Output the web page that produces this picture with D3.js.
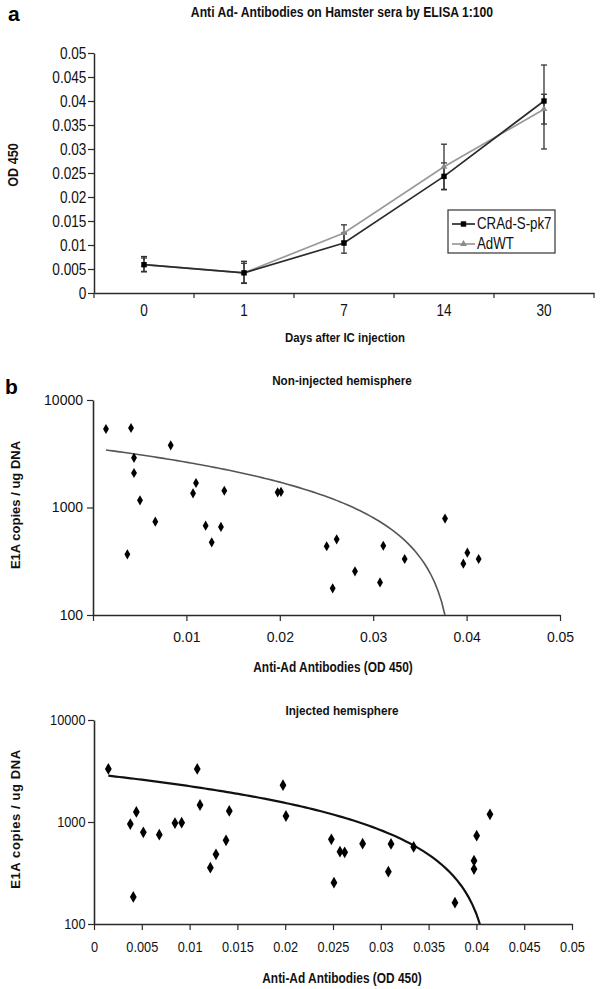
<!DOCTYPE html>
<html><head><meta charset="utf-8">
<script src="https://cdn.jsdelivr.net/npm/d3@7"></script>
<style>
body{margin:0;background:#fff;}
svg{display:block;}
.nar{font-family:"Liberation Sans",Arial,sans-serif;}
.reg{font-family:"Liberation Sans",Arial,sans-serif;}
</style></head>
<body>
<svg id="c" width="600" height="989"></svg>
<script>
// ---------- Panel a data ----------
const days = ["0","1","7","14","30"];
const odTicks = [0,0.005,0.01,0.015,0.02,0.025,0.03,0.035,0.04,0.045,0.05];
const odTickLabels = ["0","0.005","0.01","0.015","0.02","0.025","0.03","0.035","0.04","0.045","0.05"];
const crad = [0.0059,0.0042,0.0104,0.0243,0.0400];
const cradLo = [0.0045,0.0021,0.0083,0.0215,0.0300];
const cradHi = [0.0073,0.0062,0.0125,0.0271,0.0475];
const adwt = [0.0059,0.0042,0.0125,0.0263,0.0383];
const adwtLo = [0.0044,0.0020,0.0108,0.0216,0.0352];
const adwtHi = [0.0076,0.0066,0.0142,0.0310,0.0414];
const seriesNames = ["CRAd-S-pk7","AdWT"];

// ---------- Panel b (non-injected) ----------
const nonX = [0.00139,0.00407,0.00832,0.00439,0.00439,0.00503,0.00667,0.00368,0.01103,0.01071,0.01406,0.01206,0.01370,0.01271,0.01977,0.02013,0.02502,0.02609,0.02566,0.02805,0.03108,0.03073,0.03337,0.03769,0.04008,0.03965,0.04129];
const nonY = [5370,5490,3790,2900,2095,1167,738,367,1690,1356,1432,678,660,474,1384,1400,436,506,177,255,441,201,332,788,380,300,332];
const nonTrend = [3555,-91700]; // linear trendline: intercept, slope
const nonXTicks = [0,0.01,0.02,0.03,0.04,0.05];
const nonXLabels = ["","0.01","0.02","0.03","0.04","0.05"];

// ---------- Panel b (injected) ----------
const injX = [0.0015,0.0108,0.01977,0.00443,0.0038,0.00516,0.00683,0.00847,0.00917,0.01109,0.01415,0.01381,0.01276,0.01217,0.00411,0.02008,0.02483,0.02573,0.02622,0.0251,0.0281,0.03107,0.03079,0.03344,0.03776,0.04003,0.03975,0.03975,0.04142];
const injY = [3311,3311,2293,1254,955,793,752,977,985,1468,1283,661,482,357,184,1145,676,512,505,254,613,610,326,569,162,735,418,346,1189];
const injTrend = [2951,-70640];
const injXTicks = [0,0.005,0.01,0.015,0.02,0.025,0.03,0.035,0.04,0.045,0.05];
const injXLabels = ["0","0.005","0.01","0.015","0.02","0.025","0.03","0.035","0.04","0.045","0.05"];

const logTicks = [100,1000,10000];
const logLabels = ["100","1000","10000"];

const svg = d3.select("#c");
const AX = "#2a2a2a";
const NS = 0.85; // horizontal squeeze to imitate a narrow face

function ntext(g,x,y,txt,fs,opts={}){
  const t = g.append("text").attr("transform",`translate(${x},${y}) ${opts.rot?"rotate(-90)":""} scale(${opts.s||NS},1)`)
    .attr("class","nar").attr("font-size",fs).attr("fill","#111")
    .attr("text-anchor",opts.anchor||"middle").text(txt);
  if(opts.bold) t.attr("font-weight","bold");
  if(opts.sp) t.attr("letter-spacing",opts.sp);
  return t;
}

// ================= PANEL A =================
(function(){
  const x0=94,x1=594,yT=53,yB=293;
  const xb = d3.scaleBand().domain(days).range([x0,x1]);
  const y = d3.scaleLinear().domain([0,0.05]).range([yB,yT]);
  const g = svg.append("g");
  g.append("text").attr("x",8).attr("y",21).attr("class","reg").attr("font-size",21).attr("font-weight","bold").text("a");
  ntext(g,342,17,"Anti Ad- Antibodies on Hamster sera by ELISA 1:100",14,{bold:true,s:0.87});
  const ya = g.append("g").attr("transform",`translate(${x0},0)`)
    .call(d3.axisLeft(y).tickValues(odTicks).tickFormat((d,i)=>odTickLabels[i]).tickSize(6).tickSizeOuter(0));
  ya.select(".domain").attr("stroke",AX).attr("stroke-width",1.5);
  ya.selectAll(".tick line").attr("stroke",AX).attr("stroke-width",1.2);
  ya.selectAll(".tick text").attr("class","nar").attr("font-size",16).attr("fill","#111").attr("x",-9).attr("transform",`scale(${NS},1)`);
  const xa = g.append("g").attr("transform",`translate(0,${yB})`)
    .call(d3.axisBottom(xb).tickSize(0).tickSizeOuter(0));
  xa.select(".domain").attr("stroke",AX).attr("stroke-width",1.5);
  xa.selectAll(".tick text").attr("class","nar").attr("font-size",16).attr("fill","#111").attr("dy","1.25em").attr("transform",`scale(${NS},1)`);
  g.selectAll(".btick").data(days.concat(["end"])).enter().append("line")
    .attr("x1",(d,i)=>x0+i*xb.step()).attr("x2",(d,i)=>x0+i*xb.step())
    .attr("y1",yB).attr("y2",yB+5).attr("stroke",AX).attr("stroke-width",1.2);
  ntext(g,18,165,"OD 450",14,{bold:true,rot:true,s:0.9});
  ntext(g,345,342,"Days after IC injection",13,{bold:true,s:0.88});
  const cx = d=>xb(d)+xb.bandwidth()/2;
  const errs = [[crad,cradLo,cradHi],[adwt,adwtLo,adwtHi]];
  errs.forEach(([v,lo,hi])=>{
    days.forEach((d,i)=>{
      const X=cx(d);
      g.append("line").attr("x1",X).attr("x2",X).attr("y1",y(lo[i])).attr("y2",y(hi[i])).attr("stroke","#333").attr("stroke-width",1.3);
      [lo[i],hi[i]].forEach(e=>g.append("line").attr("x1",X-3).attr("x2",X+3).attr("y1",y(e)).attr("y2",y(e)).attr("stroke","#333").attr("stroke-width",1.3));
    });
  });
  const line = d3.line().x((v,i)=>cx(days[i])).y(v=>y(v));
  g.append("path").attr("d",line(adwt)).attr("fill","none").attr("stroke","#9a9a9a").attr("stroke-width",1.7);
  g.append("path").attr("d",line(crad)).attr("fill","none").attr("stroke","#2b2b2b").attr("stroke-width",1.7);
  const tri = d3.symbol().type(d3.symbolTriangle).size(20);
  adwt.forEach((v,i)=>g.append("path").attr("d",tri()).attr("transform",`translate(${cx(days[i])},${y(v)})`).attr("fill","#8a8a8a"));
  crad.forEach((v,i)=>g.append("rect").attr("x",cx(days[i])-2.7).attr("y",y(v)-2.7).attr("width",5.4).attr("height",5.4).attr("fill","#000"));
  const lg = g.append("g");
  lg.append("rect").attr("x",448).attr("y",210).attr("width",107).attr("height",43).attr("fill","#fff").attr("stroke","#333").attr("stroke-width",1.2);
  [[224,"#2b2b2b","sq"],[244,"#9a9a9a","tri"]].forEach(([ly,col,m],i)=>{
    lg.append("line").attr("x1",452).attr("x2",475).attr("y1",ly).attr("y2",ly).attr("stroke",col).attr("stroke-width",1.7);
    if(m==="sq") lg.append("rect").attr("x",460.8).attr("y",ly-2.7).attr("width",5.4).attr("height",5.4).attr("fill","#000");
    else lg.append("path").attr("d",tri()).attr("transform",`translate(463.5,${ly})`).attr("fill","#8a8a8a");
    ntext(lg,477,ly+5,seriesNames[i],16,{anchor:"start",s:0.83});
  });
})();

// ================= PANEL B helper =================
function scatterPanel(o){
  const x = d3.scaleLinear().domain([0,0.05]).range([o.x0,o.x1]);
  const y = d3.scaleLog().domain([100,10000]).range([o.yB,o.yT]);
  const g = svg.append("g");
  ntext(g,342,o.titleY,o.title,13,{bold:true,s:0.9});
  const ya = g.append("g").attr("transform",`translate(${o.x0},0)`)
    .call(d3.axisLeft(y).tickValues(logTicks).tickFormat((d,i)=>logLabels[i]).tickSize(6).tickSizeOuter(0));
  ya.select(".domain").attr("stroke",AX).attr("stroke-width",1.6);
  ya.selectAll(".tick line").attr("stroke",AX).attr("stroke-width",1.2);
  ya.selectAll(".tick text").attr("class","nar").attr("font-size",o.tickFs).attr("fill","#111").attr("x",-10).attr("transform",`scale(${o.tickS},1)`);
  const xa = g.append("g").attr("transform",`translate(0,${o.yB})`)
    .call(d3.axisBottom(x).tickValues(o.xTicks).tickFormat((d,i)=>o.xLabels[i]).tickSize(6).tickSizeOuter(0));
  xa.select(".domain").attr("stroke",AX).attr("stroke-width",1.6);
  xa.selectAll(".tick line").attr("stroke",AX).attr("stroke-width",1.2);
  xa.selectAll(".tick text").attr("class","nar").attr("font-size",o.tickFs).attr("fill","#111").attr("dy","1.25em").attr("transform",`scale(${o.tickS},1)`);
  ntext(g,20,o.yLabY,"E1A copies / ug DNA",13,{bold:true,rot:true,s:1,sp:o.yLabSp});
  ntext(g,o.xLabX,o.xLabY,"Anti-Ad Antibodies (OD 450)",14,{bold:true,s:NS});
  const [a,b] = o.trend;
  const xEnd = (100-a)/b;
  const xs = d3.range(0,101).map(i=>o.trendStart+(xEnd-o.trendStart)*i/100);
  g.append("path").attr("d",d3.line().x(v=>x(v)).y(v=>y(Math.max(100,a+b*v)))(xs))
    .attr("fill","none").attr("stroke",o.trendCol).attr("stroke-width",o.trendW);
  const dia = d3.symbol().type(d3.symbolDiamond).size(o.msize);
  o.xs.forEach((v,i)=>g.append("path").attr("d",dia()).attr("transform",`translate(${x(v)},${y(o.ys[i])})`).attr("fill","#000"));
  return g;
}

svg.append("text").attr("x",5).attr("y",394).attr("class","reg").attr("font-size",21).attr("font-weight","bold").text("b");

scatterPanel({x0:93,x1:560,yT:400,yB:615,title:"Non-injected hemisphere",titleY:385,
  xTicks:nonXTicks,xLabels:nonXLabels,tickFs:14,tickS:1,yLabY:505,yLabSp:0,
  xLabX:333,xLabY:672,trend:nonTrend,trendStart:nonX[0],trendCol:"#555",trendW:1.6,
  xs:nonX,ys:nonY,msize:30});

scatterPanel({x0:94,x1:572,yT:720,yB:924,title:"Injected hemisphere",titleY:715,
  xTicks:injXTicks,xLabels:injXLabels,tickFs:15,tickS:NS,yLabY:819,yLabSp:0.6,
  xLabX:342,xLabY:983,trend:injTrend,trendStart:injX[0],trendCol:"#111",trendW:2.2,
  xs:injX,ys:injY,msize:40});
</script>
</body></html>
